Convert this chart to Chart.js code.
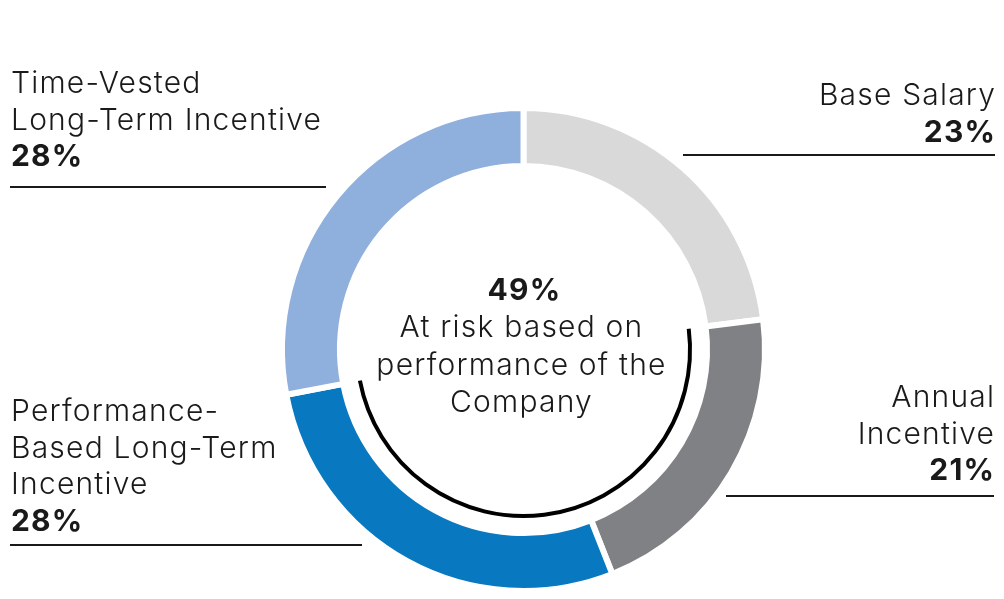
<!DOCTYPE html>
<html>
<head>
<meta charset="utf-8">
<script src="https://cdn.jsdelivr.net/npm/chart.js@4"></script>
<style>
    html, body { margin: 0; padding: 0; background: #fff; }
    #wrap { width: 1004px; height: 599px; position: relative; }
</style>
</head>
<body>
<div id="wrap"><canvas id="payChart" width="1004" height="599"></canvas></div>
<script>
// Pay mix data
const categories = ['Base Salary', 'Annual Incentive', 'Performance-Based Long-Term Incentive', 'Time-Vested Long-Term Incentive'];
const shares = [23, 21, 28, 28];
const sliceColors = ['#d9d9d9', '#808184', '#0878c0', '#8fafdc'];
const labelLines = [
    ['Base Salary'],
    ['Annual', 'Incentive'],
    ['Performance-', 'Based Long-Term', 'Incentive'],
    ['Time-Vested', 'Long-Term Incentive']
];
const atRiskShare = shares[1] + shares[2];
const centerLines = ['At risk based on', 'performance of the', 'Company'];

const FONT = '"Inter", "Noto Sans", sans-serif';
const INK = '#1a1a1a';
const SPACING = 1.2;

// label blocks: where each category's text sits and where its rule goes
const labelLayout = [
    { align: 'right', x: 995, y: 105, rule: [683, 995, 155] },
    { align: 'right', x: 994, y: 407, rule: [726, 994, 496] },
    { align: 'left', x: 11, y: 421, rule: [10, 362, 545] },
    { align: 'left', x: 11, y: 93, rule: [10, 326, 187] }
];

const annotations = {
    id: 'annotations',
    afterDatasetsDraw(chart) {
        const ctx = chart.ctx;
        const arcs = chart.getDatasetMeta(0).data;
        const cx = arcs[0].x, cy = arcs[0].y;

        // black arc under the at-risk slices
        ctx.save();
        ctx.strokeStyle = '#000';
        ctx.lineWidth = 4;
        ctx.beginPath();
        ctx.arc(cx, cy, arcs[1].innerRadius - 17, arcs[1].startAngle, arcs[2].endAngle);
        ctx.stroke();

        // center text
        ctx.letterSpacing = SPACING + 'px';
        ctx.fillStyle = INK;
        ctx.textAlign = 'center';
        ctx.textBaseline = 'alphabetic';
        ctx.font = '700 30px ' + FONT;
        ctx.fillText(atRiskShare + '%', cx + 1, 300);
        ctx.font = '300 30px ' + FONT;
        centerLines.forEach((line, i) => ctx.fillText(line, cx - 2, 337 + i * 37.5));

        // category labels
        labelLines.forEach((lines, i) => {
            const L = labelLayout[i];
            const x = L.align === 'right' ? L.x + SPACING : L.x;
            ctx.textAlign = L.align;
            ctx.font = '300 30px ' + FONT;
            lines.forEach((line, j) => ctx.fillText(line, x, L.y + j * 36.5));
            ctx.font = '700 30px ' + FONT;
            ctx.fillText(shares[i] + '%', x, L.y + lines.length * 36.5);
            ctx.strokeStyle = INK;
            ctx.lineWidth = 2;
            ctx.beginPath();
            ctx.moveTo(L.rule[0], L.rule[2]);
            ctx.lineTo(L.rule[1], L.rule[2]);
            ctx.stroke();
        });
        ctx.restore();
    }
};

new Chart(document.getElementById('payChart'), {
    type: 'doughnut',
    data: {
        labels: categories,
        datasets: [{
            data: shares,
            backgroundColor: sliceColors,
            borderColor: '#ffffff',
            borderWidth: 6,
            hoverOffset: 0
        }]
    },
    options: {
        responsive: false,
        animation: false,
        cutout: '76%',
        layout: { padding: { top: 105, bottom: 5, left: 279, right: 236 } },
        plugins: {
            legend: { display: false },
            tooltip: { enabled: false }
        }
    },
    plugins: [annotations]
});
</script>
</body>
</html>
